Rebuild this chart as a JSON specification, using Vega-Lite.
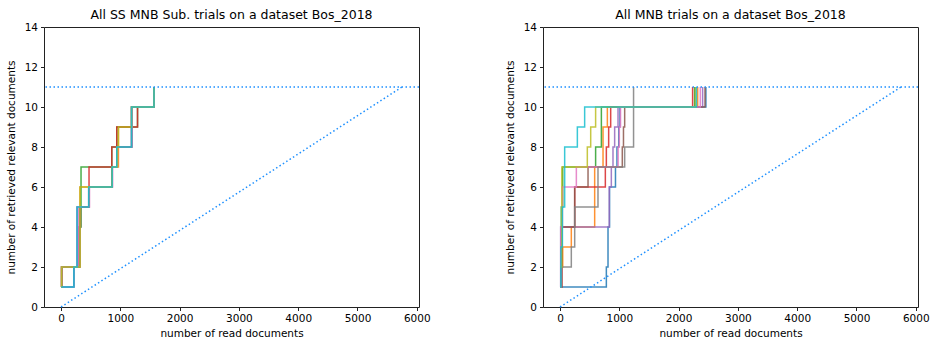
{
  "$schema": "https://vega.github.io/schema/vega-lite/v6.json",
  "padding": {"left": 5, "top": 8, "right": 2, "bottom": 2},
  "background": "white",
  "spacing": 73,
  "config": {
    "font": "DejaVu Sans",
    "view": {"stroke": "#222222", "strokeWidth": 1},
    "title": {"font": "DejaVu Sans", "fontSize": 12.5, "fontWeight": "normal", "color": "black", "offset": 1},
    "axis": {
      "domain": false, "grid": false, "ticks": true, "tickColor": "#222222", "tickSize": 3.5,
      "labelFont": "DejaVu Sans", "labelFontSize": 10.5, "labelColor": "black", "labelPadding": 3, "labelOverlap": false, "format": "d",
      "titleFont": "DejaVu Sans", "titleFontSize": 10.5, "titleFontWeight": "normal", "titleColor": "black"
    }
  },
  "datasets": {
    "ss": [
      {"t": "t0", "x": 0, "y": 1}, {"t": "t0", "x": 217, "y": 2}, {"t": "t0", "x": 272, "y": 5}, {"t": "t0", "x": 467, "y": 6}, {"t": "t0", "x": 862, "y": 7}, {"t": "t0", "x": 940, "y": 8}, {"t": "t0", "x": 1190, "y": 10}, {"t": "t0", "x": 1568, "y": 11},
      {"t": "t1", "x": 0, "y": 1}, {"t": "t1", "x": 10, "y": 2}, {"t": "t1", "x": 320, "y": 6}, {"t": "t1", "x": 862, "y": 7}, {"t": "t1", "x": 968, "y": 9}, {"t": "t1", "x": 1190, "y": 10}, {"t": "t1", "x": 1568, "y": 11},
      {"t": "t2", "x": 0, "y": 1}, {"t": "t2", "x": 10, "y": 2}, {"t": "t2", "x": 300, "y": 4}, {"t": "t2", "x": 337, "y": 7}, {"t": "t2", "x": 856, "y": 8}, {"t": "t2", "x": 940, "y": 9}, {"t": "t2", "x": 1290, "y": 10}, {"t": "t2", "x": 1568, "y": 11},
      {"t": "t3", "x": 0, "y": 1}, {"t": "t3", "x": 10, "y": 2}, {"t": "t3", "x": 300, "y": 4}, {"t": "t3", "x": 320, "y": 5}, {"t": "t3", "x": 472, "y": 7}, {"t": "t3", "x": 856, "y": 8}, {"t": "t3", "x": 940, "y": 9}, {"t": "t3", "x": 1290, "y": 10}, {"t": "t3", "x": 1568, "y": 11},
      {"t": "t4", "x": 0, "y": 1}, {"t": "t4", "x": 217, "y": 2}, {"t": "t4", "x": 272, "y": 5}, {"t": "t4", "x": 467, "y": 6}, {"t": "t4", "x": 862, "y": 7}, {"t": "t4", "x": 940, "y": 8}, {"t": "t4", "x": 1190, "y": 10}, {"t": "t4", "x": 1568, "y": 11},
      {"t": "t5", "x": 0, "y": 1}, {"t": "t5", "x": 10, "y": 2}, {"t": "t5", "x": 315, "y": 4}, {"t": "t5", "x": 330, "y": 5}, {"t": "t5", "x": 467, "y": 6}, {"t": "t5", "x": 862, "y": 7}, {"t": "t5", "x": 940, "y": 8}, {"t": "t5", "x": 1190, "y": 10}, {"t": "t5", "x": 1568, "y": 11},
      {"t": "t6", "x": 0, "y": 1}, {"t": "t6", "x": 10, "y": 2}, {"t": "t6", "x": 290, "y": 5}, {"t": "t6", "x": 480, "y": 6}, {"t": "t6", "x": 870, "y": 7}, {"t": "t6", "x": 950, "y": 8}, {"t": "t6", "x": 1200, "y": 10}, {"t": "t6", "x": 1568, "y": 11},
      {"t": "t7", "x": 0, "y": 1}, {"t": "t7", "x": 10, "y": 2}, {"t": "t7", "x": 315, "y": 5}, {"t": "t7", "x": 467, "y": 6}, {"t": "t7", "x": 862, "y": 7}, {"t": "t7", "x": 940, "y": 8}, {"t": "t7", "x": 1190, "y": 10}, {"t": "t7", "x": 1568, "y": 11},
      {"t": "t8", "x": 0, "y": 1}, {"t": "t8", "x": 10, "y": 2}, {"t": "t8", "x": 320, "y": 6}, {"t": "t8", "x": 862, "y": 7}, {"t": "t8", "x": 950, "y": 8}, {"t": "t8", "x": 968, "y": 9}, {"t": "t8", "x": 1190, "y": 10}, {"t": "t8", "x": 1568, "y": 11},
      {"t": "t9", "x": 0, "y": 1}, {"t": "t9", "x": 217, "y": 2}, {"t": "t9", "x": 272, "y": 5}, {"t": "t9", "x": 467, "y": 6}, {"t": "t9", "x": 862, "y": 7}, {"t": "t9", "x": 940, "y": 8}, {"t": "t9", "x": 1190, "y": 10}, {"t": "t9", "x": 1568, "y": 11}
    ],
    "mnb": [
      {"t": "t0", "x": 0, "y": 1}, {"t": "t0", "x": 781, "y": 2}, {"t": "t0", "x": 809, "y": 4}, {"t": "t0", "x": 835, "y": 6}, {"t": "t0", "x": 935, "y": 7}, {"t": "t0", "x": 960, "y": 8}, {"t": "t0", "x": 990, "y": 9}, {"t": "t0", "x": 1010, "y": 10}, {"t": "t0", "x": 2460, "y": 11},
      {"t": "t1", "x": 0, "y": 2}, {"t": "t1", "x": 45, "y": 3}, {"t": "t1", "x": 190, "y": 4}, {"t": "t1", "x": 584, "y": 7}, {"t": "t1", "x": 725, "y": 9}, {"t": "t1", "x": 798, "y": 10}, {"t": "t1", "x": 2321, "y": 11},
      {"t": "t2", "x": 0, "y": 1}, {"t": "t2", "x": 20, "y": 5}, {"t": "t2", "x": 45, "y": 7}, {"t": "t2", "x": 600, "y": 8}, {"t": "t2", "x": 697, "y": 10}, {"t": "t2", "x": 2270, "y": 11},
      {"t": "t3", "x": 0, "y": 1}, {"t": "t3", "x": 30, "y": 4}, {"t": "t3", "x": 247, "y": 6}, {"t": "t3", "x": 764, "y": 7}, {"t": "t3", "x": 781, "y": 8}, {"t": "t3", "x": 820, "y": 9}, {"t": "t3", "x": 854, "y": 10}, {"t": "t3", "x": 2236, "y": 11},
      {"t": "t4", "x": 0, "y": 1}, {"t": "t4", "x": 10, "y": 4}, {"t": "t4", "x": 830, "y": 6}, {"t": "t4", "x": 865, "y": 7}, {"t": "t4", "x": 893, "y": 8}, {"t": "t4", "x": 921, "y": 9}, {"t": "t4", "x": 978, "y": 10}, {"t": "t4", "x": 2405, "y": 11},
      {"t": "t5", "x": 0, "y": 1}, {"t": "t5", "x": 30, "y": 4}, {"t": "t5", "x": 247, "y": 6}, {"t": "t5", "x": 472, "y": 7}, {"t": "t5", "x": 1050, "y": 8}, {"t": "t5", "x": 1070, "y": 9}, {"t": "t5", "x": 1090, "y": 10}, {"t": "t5", "x": 2445, "y": 11},
      {"t": "t6", "x": 0, "y": 1}, {"t": "t6", "x": 15, "y": 4}, {"t": "t6", "x": 40, "y": 6}, {"t": "t6", "x": 275, "y": 7}, {"t": "t6", "x": 980, "y": 8}, {"t": "t6", "x": 1000, "y": 9}, {"t": "t6", "x": 1020, "y": 10}, {"t": "t6", "x": 2366, "y": 11},
      {"t": "t7", "x": 0, "y": 1}, {"t": "t7", "x": 15, "y": 2}, {"t": "t7", "x": 190, "y": 3}, {"t": "t7", "x": 247, "y": 5}, {"t": "t7", "x": 640, "y": 7}, {"t": "t7", "x": 1090, "y": 8}, {"t": "t7", "x": 1240, "y": 11},
      {"t": "t8", "x": 0, "y": 2}, {"t": "t8", "x": 30, "y": 7}, {"t": "t8", "x": 460, "y": 8}, {"t": "t8", "x": 517, "y": 9}, {"t": "t8", "x": 600, "y": 10}, {"t": "t8", "x": 2285, "y": 11},
      {"t": "t9", "x": 0, "y": 1}, {"t": "t9", "x": 15, "y": 3}, {"t": "t9", "x": 40, "y": 5}, {"t": "t9", "x": 78, "y": 8}, {"t": "t9", "x": 292, "y": 9}, {"t": "t9", "x": 415, "y": 10}, {"t": "t9", "x": 2300, "y": 11}
    ],
    "diag": [{"x": 0, "y": 0}, {"x": 5750, "y": 11}],
    "total": [{"y": 11}]
  },
  "hconcat": [
    {
      "width": 375, "height": 280,
      "title": "All SS MNB Sub. trials on a dataset Bos_2018",
      "layer": [
        {
          "data": {"name": "ss"},
          "mark": {"type": "line", "interpolate": "step-after", "strokeWidth": 1.5, "opacity": 0.85},
          "encoding": {
            "x": {"field": "x", "type": "quantitative", "scale": {"domain": [-287.5, 6037.5], "nice": false, "zero": false}, "axis": {"values": [0, 1000, 2000, 3000, 4000, 5000, 6000], "labelOverlap": false, "title": "number of read documents", "titlePadding": 4}},
            "y": {"field": "y", "type": "quantitative", "scale": {"domain": [0, 14], "nice": false}, "axis": {"values": [0, 2, 4, 6, 8, 10, 12, 14], "labelOverlap": false, "labelFlush": false, "tickCount": 8, "title": "number of retrieved relevant documents", "titlePadding": 8}},
            "color": {"field": "t", "type": "nominal", "legend": null, "scale": {"domain": ["t0","t1","t2","t3","t4","t5","t6","t7","t8","t9"], "range": ["#1f77b4","#ff7f0e","#2ca02c","#d62728","#9467bd","#8c564b","#e377c2","#7f7f7f","#bcbd22","#17becf"]}},
            "detail": {"field": "t"}
          }
        },
        {
          "data": {"name": "total"},
          "mark": {"type": "rule", "color": "#1e90ff", "strokeWidth": 1.5, "strokeDash": [1.5, 2.5]},
          "encoding": {"y": {"field": "y", "type": "quantitative"}}
        },
        {
          "data": {"name": "diag"},
          "mark": {"type": "line", "color": "#1e90ff", "strokeWidth": 1.5, "strokeDash": [1.5, 2.5]},
          "encoding": {"x": {"field": "x", "type": "quantitative"}, "y": {"field": "y", "type": "quantitative"}}
        }
      ]
    },
    {
      "width": 375, "height": 280,
      "title": "All MNB trials on a dataset Bos_2018",
      "layer": [
        {
          "data": {"name": "mnb"},
          "mark": {"type": "line", "interpolate": "step-after", "strokeWidth": 1.5, "opacity": 0.85},
          "encoding": {
            "x": {"field": "x", "type": "quantitative", "scale": {"domain": [-287.5, 6037.5], "nice": false, "zero": false}, "axis": {"values": [0, 1000, 2000, 3000, 4000, 5000, 6000], "labelOverlap": false, "title": "number of read documents", "titlePadding": 4}},
            "y": {"field": "y", "type": "quantitative", "scale": {"domain": [0, 14], "nice": false}, "axis": {"values": [0, 2, 4, 6, 8, 10, 12, 14], "labelOverlap": false, "labelFlush": false, "tickCount": 8, "title": "number of retrieved relevant documents", "titlePadding": 8}},
            "color": {"field": "t", "type": "nominal", "legend": null, "scale": {"domain": ["t0","t1","t2","t3","t4","t5","t6","t7","t8","t9"], "range": ["#1f77b4","#ff7f0e","#2ca02c","#d62728","#9467bd","#8c564b","#e377c2","#7f7f7f","#bcbd22","#17becf"]}},
            "detail": {"field": "t"}
          }
        },
        {
          "data": {"name": "total"},
          "mark": {"type": "rule", "color": "#1e90ff", "strokeWidth": 1.5, "strokeDash": [1.5, 2.5]},
          "encoding": {"y": {"field": "y", "type": "quantitative"}}
        },
        {
          "data": {"name": "diag"},
          "mark": {"type": "line", "color": "#1e90ff", "strokeWidth": 1.5, "strokeDash": [1.5, 2.5]},
          "encoding": {"x": {"field": "x", "type": "quantitative"}, "y": {"field": "y", "type": "quantitative"}}
        }
      ]
    }
  ]
}
